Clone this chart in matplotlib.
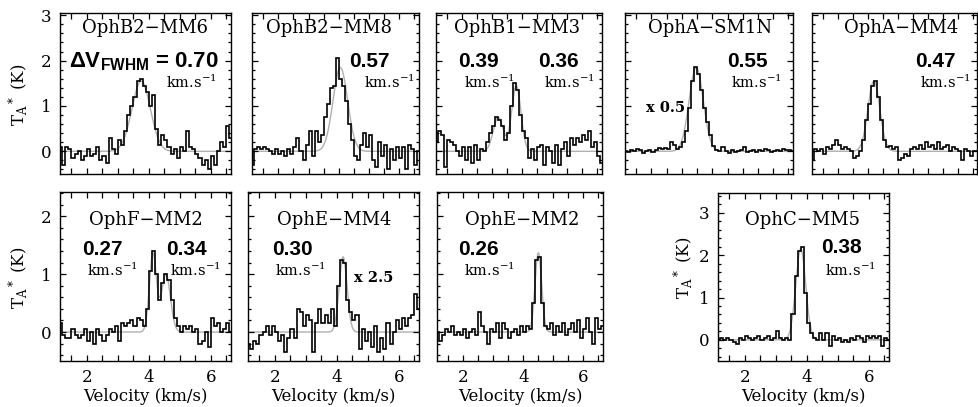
import numpy as np
import matplotlib.pyplot as plt
from matplotlib.ticker import MultipleLocator, NullFormatter

plt.rcParams['font.family'] = ['DejaVu Serif']
plt.rcParams['mathtext.fontset'] = 'custom'
plt.rcParams['mathtext.rm'] = 'DejaVu Serif'
plt.rcParams['mathtext.it'] = 'DejaVu Serif:italic'
plt.rcParams['mathtext.bf'] = 'Liberation Sans:bold'

# velocity channels: first channel edge and width (km/s)
V0 = 1.1
DV = 0.1

names = ['OphB2\u2212MM6', 'OphB2\u2212MM8', 'OphB1\u2212MM3', 'OphA\u2212SM1N', 'OphA\u2212MM4',
         'OphF\u2212MM2', 'OphE\u2212MM4', 'OphE\u2212MM2', 'OphC\u2212MM5']

# antenna temperature per channel (K), as displayed (SM1N x0.5, E-MM4 x2.5)
b2_mm6 = [0.1, -0.3, 0.1, 0.05, -0.15, -0.05, 0.0, -0.2, -0.1, 0.05, -0.1, -0.05, 0.1, -0.2,
          -0.1, -0.25, 0.3, 0.05, -0.05, 0.25, 0.15, 0.45, 0.8, 1.0, 1.2, 1.55, 1.6, 1.45,
          1.3, 1.0, 1.25, 0.5, 0.15, 0.35, 0.25, 0.1, -0.05, 0.05, -0.15, 0.1, 0.0, 0.45,
          0.1, 0.05, -0.05, -0.15, -0.3, -0.2, -0.4, -0.1, -0.3, 0.0, 0.2, 0.1, 0.55, 0.3]
b2_mm8 = [-0.3, 0.05, 0.1, 0.05, 0.1, 0.05, 0.0, -0.05, 0.05, -0.05, 0.0, -0.1, 0.05, -0.05,
          0.1, 0.3, 0.0, -0.2, 0.15, 0.45, -0.1, 0.45, 0.2, 0.35, 0.75, 1.05, 1.4, 1.45,
          2.05, 1.6, 1.45, 1.1, 0.6, 0.25, -0.1, -0.2, 0.15, 0.4, 0.1, 0.35, -0.2, -0.35,
          0.2, -0.1, 0.15, -0.4, 0.05, -0.2, 0.1, -0.15, 0.1, -0.4, 0.15, 0.05, -0.3, 0.0]
b1_mm3 = [0.2, 0.45, 0.35, -0.35, 0.25, 0.2, 0.15, 0.0, -0.1, 0.1, -0.2, 0.1, -0.25, 0.15,
          -0.2, 0.05, 0.0, 0.2, 0.4, 0.55, 0.75, 0.7, 0.55, 0.25, 0.4, 1.0, 1.5, 1.35,
          0.8, 0.45, 0.3, -0.15, 0.05, -0.2, 0.1, 0.15, -0.3, 0.1, 0.0, -0.25, 0.15, -0.3,
          0.05, 0.2, -0.1, 0.3, 0.15, 0.3, 0.2, 0.35, 0.25, 0.45, 0.1, 0.2, -0.1, -0.25]
a_sm1n = [0.0, -0.02, 0.03, 0.0, 0.05, 0.02, -0.03, 0.0, 0.02, -0.02, 0.03, 0.08, 0.05, 0.08,
          0.06, 0.2, 0.15, 0.05, 0.1, 0.2, 0.45, 0.95, 1.55, 1.85, 1.7, 1.35, 0.95, 0.65,
          0.35, 0.12, 0.03, 0.0, 0.1, 0.0, -0.03, 0.02, -0.02, 0.0, 0.02, 0.1, -0.02, 0.0,
          0.03, -0.02, 0.02, 0.0, 0.06, 0.02, -0.02, 0.0, 0.04, 0.0, 0.05, 0.02, 0.04, 0.0]
a_mm4 = [-0.2, 0.05, 0.0, 0.05, -0.05, 0.1, 0.05, 0.15, 0.25, 0.15, 0.05, 0.1, 0.05, 0.0,
         -0.15, -0.1, 0.0, 0.25, 0.7, 1.05, 1.45, 1.55, 1.2, 0.7, 0.25, 0.1, 0.12, 0.05,
         0.1, -0.2, -0.15, -0.05, -0.1, 0.05, 0.1, 0.05, 0.15, 0.05, 0.2, 0.1, 0.15, 0.05,
         0.2, 0.05, 0.1, 0.15, 0.0, 0.1, 0.05, 0.0, -0.2, 0.05, 0.0, -0.1, 0.0, 0.0]
f_mm2 = [0.15, -0.05, -0.1, -0.1, 0.05, -0.05, -0.1, -0.05, 0.05, -0.15, 0.0, -0.2, 0.05, -0.05,
         -0.15, -0.05, 0.05, 0.0, 0.1, -0.15, 0.15, 0.1, 0.15, 0.2, 0.1, 0.25, 0.2, 0.1,
         0.4, 1.05, 1.4, 1.0, 0.55, 0.85, 1.0, 0.9, 0.55, 0.25, 0.1, 0.0, 0.1, 0.05,
         0.1, 0.0, 0.05, -0.2, -0.15, 0.0, -0.25, 0.25, 0.1, 0.15, 0.0, 0.05, 0.15, 0.0]
e_mm4 = [-0.2, -0.3, -0.15, -0.2, -0.05, 0.0, 0.1, -0.05, 0.1, 0.0, -0.15, -0.05, -0.35, -0.1,
         0.05, -0.1, 0.4, 0.35, 0.1, 0.3, 0.2, -0.35, 0.15, 0.4, 0.15, 0.3, 0.15, 0.4,
         0.1, 0.8, 1.25, 1.2, 0.55, 0.35, 0.2, 0.3, -0.3, 0.05, -0.15, 0.0, -0.25, 0.1,
         -0.35, -0.1, -0.3, 0.15, -0.2, 0.0, 0.2, 0.05, 0.25, 0.1, 0.25, 0.3, 0.65, 0.4]
e_mm2 = [0.0, -0.15, -0.05, 0.05, 0.0, 0.1, -0.05, 0.0, -0.05, 0.05, -0.1, 0.0, 0.05, -0.05,
         0.35, 0.1, 0.0, -0.2, 0.05, 0.0, 0.15, -0.1, 0.15, 0.05, -0.1, 0.0, 0.05, -0.05,
         0.1, 0.0, 0.1, 0.05, 0.5, 1.25, 1.3, 0.5, 0.1, 0.05, 0.15, -0.05, 0.1, 0.0,
         0.15, -0.05, 0.05, 0.15, 0.0, 0.2, -0.1, 0.05, 0.25, 0.0, -0.2, 0.25, 0.05, 0.1]
c_mm5 = [0.0, 0.05, 0.0, 0.05, 0.0, -0.05, -0.1, 0.05, 0.0, 0.1, 0.05, 0.0, 0.05, 0.1,
         0.0, 0.05, 0.1, 0.0, 0.05, 0.2, 0.05, 0.0, 0.05, 0.0, 0.6, 1.5, 2.1, 2.2,
         1.1, 0.4, 0.15, 0.05, 0.0, 0.15, 0.0, 0.15, -0.15, 0.1, 0.0, 0.05, -0.05, 0.0,
         -0.05, 0.05, 0.0, 0.1, 0.05, -0.05, 0.1, 0.05, 0.1, 0.05, 0.1, -0.15, 0.05, 0.0]
spectra = [b2_mm6, b2_mm8, b1_mm3, a_sm1n, a_mm4, f_mm2, e_mm4, e_mm2, c_mm5]

# gaussian fits: amplitude (K), centre (km/s), FWHM (km/s); one list per component
fit_amp = [[1.55], [1.85], [0.75, 1.45], [1.85], [1.55], [1.35, 1.0], [1.3], [1.37], [2.15]]
fit_cen = [[3.75], [4.05], [3.2, 3.8], [3.47], [3.2], [4.13, 4.55], [4.2], [4.5], [3.8]]
fit_fwhm = [[0.70], [0.57], [0.39, 0.36], [0.55], [0.47], [0.27, 0.34], [0.30], [0.26], [0.38]]

# panel boxes in pixels: x0, x1, y0, y1
boxes = [(60, 231, 13, 174), (252, 419, 13, 174), (436, 602, 13, 174), (625, 793, 13, 174),
         (812, 977, 13, 174), (60, 231, 192, 361), (248, 419, 192, 361), (437, 603, 192, 361),
         (718, 889, 193, 361)]
ylims = [(-0.5, 3.05)] * 5 + [(-0.5, 2.42)] * 3 + [(-0.5, 3.47)]
title_x = [0.50, 0.464, 0.488, 0.506, 0.54, 0.503, 0.503, 0.512, 0.497]
# baselines (axes fraction) of title, width numbers and unit labels per row
title_y = [0.876] * 5 + [0.805] * 3 + [0.81]
num_y = [0.665] * 5 + [0.627] * 3 + [0.643]
unit_y = [0.534] * 5 + [0.503] * 3 + [0.506]

W, H = 979, 407
fig = plt.figure(figsize=(W / 100, H / 100), dpi=100)

axes = []
for i, (x0, x1, y0, y1) in enumerate(boxes):
    ax = fig.add_axes([x0 / W, 1 - y1 / H, (x1 - x0) / W, (y1 - y0) / H])
    vals = np.array(spectra[i])
    edges = V0 + DV * np.arange(len(vals) + 1)
    vv = np.linspace(1.0, 7.0, 600)
    model = np.zeros_like(vv)
    for a, c, f in zip(fit_amp[i], fit_cen[i], fit_fwhm[i]):
        s = f / 2.3548
        model += a * np.exp(-0.5 * ((vv - c) / s) ** 2)
    ax.plot(vv, model, color='#b0b0b0', lw=1.0, zorder=1)
    ax.stairs(vals, edges, color='black', lw=1.2, zorder=2)
    ax.set_xlim(1.13, 6.65)
    ax.set_ylim(*ylims[i])
    ax.xaxis.set_major_locator(MultipleLocator(2))
    ax.xaxis.set_minor_locator(MultipleLocator(0.5))
    ax.yaxis.set_major_locator(MultipleLocator(1))
    ax.yaxis.set_minor_locator(MultipleLocator(0.2))
    ax.tick_params(which='both', direction='in', top=True, right=True, width=0.9,
                   labelsize=12, pad=6)
    ax.tick_params(axis='x', which='both', length=4)
    ax.tick_params(axis='y', which='major', length=4.5)
    ax.tick_params(axis='y', which='minor', length=2.3)
    for sp in ax.spines.values():
        sp.set_linewidth(1.0)
    if i not in (0, 5, 8):
        ax.yaxis.set_major_formatter(NullFormatter())
    if i < 5:
        ax.xaxis.set_major_formatter(NullFormatter())
    else:
        ax.set_xlabel('Velocity (km/s)', fontsize=12, labelpad=1)
    ax.text(title_x[i], title_y[i], names[i], transform=ax.transAxes, ha='center',
            va='baseline', fontsize=13)
    axes.append(ax)

bold = dict(fontsize=15, fontweight='bold', family='Liberation Sans', ha='center', va='baseline')
unit = 'km.s$^{-1}$'
ukw = dict(fontsize=10.5, ha='center', va='baseline')
xkw = dict(fontsize=10.5, fontweight='bold', ha='center', va='center')

# width labels: (panel, text, x of number, x of unit)
widths = [(1, '0.57', 0.70, 0.82),
          (2, '0.39', 0.253, 0.322), (2, '0.36', 0.735, 0.804),
          (3, '0.55', 0.726, 0.783), (4, '0.47', 0.75, 0.81),
          (5, '0.27', 0.245, 0.307), (5, '0.34', 0.737, 0.792),
          (6, '0.30', 0.257, 0.307), (7, '0.26', 0.247, 0.316),
          (8, '0.38', 0.719, 0.775)]
for k, txt, xn, xu in widths:
    ax = axes[k]
    ax.text(xn, num_y[k], txt, transform=ax.transAxes, **bold)
    ax.text(xu, unit_y[k], unit, transform=ax.transAxes, **ukw)

ax = axes[0]
ax.text(0.49, num_y[0], r'$\mathbf{\Delta V_{FWHM}}$ = 0.70', transform=ax.transAxes,
        **{**bold, 'fontsize': 16})
ax.text(0.77, unit_y[0], unit, transform=ax.transAxes, **ukw)
axes[3].text(0.244, 0.41, 'x 0.5', transform=axes[3].transAxes, **xkw)
axes[6].text(0.737, 0.491, 'x 2.5', transform=axes[6].transAxes, **xkw)

ylab = r'T$_\mathrm{A}$$^*$ (K)'
for (px, py) in [(18, 95), (18, 278), (683, 268)]:
    fig.text(px / W, 1 - py / H, ylab, rotation=90, ha='center', va='center', fontsize=12)

fig.savefig('out.png', dpi=100)
